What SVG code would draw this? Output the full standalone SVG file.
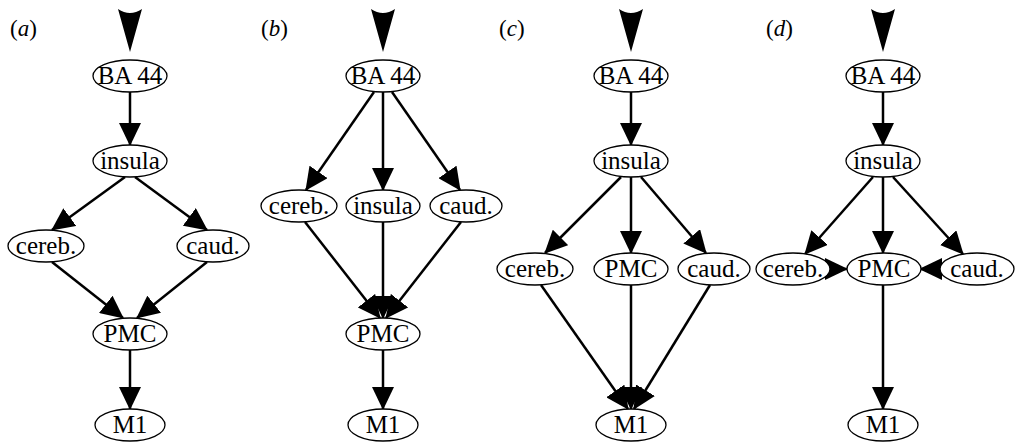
<svg xmlns="http://www.w3.org/2000/svg" width="1016" height="442" viewBox="0 0 1016 442">
<style>
.n ellipse{fill:#fff;stroke:#000;stroke-width:1.3}
.n text{font-family:"Liberation Serif","Times New Roman",serif;font-size:25px;fill:#000;text-anchor:middle}
.lb{font-family:"Liberation Serif","Times New Roman",serif;font-size:23px;fill:#000}
.e line{stroke:#000;stroke-width:2.5;marker-end:url(#ah)}
.top{fill:#000}
</style>
<defs>
<marker id="ah" markerUnits="userSpaceOnUse" markerWidth="23" markerHeight="22" refX="22" refY="11" orient="auto" viewBox="0 0 23 22">
<path d="M0,0 L23,11 L0,22 Z" fill="#000"/>
</marker>
</defs>
<text class="lb" x="10" y="36">(<tspan font-style="italic">a</tspan>)</text>
<text class="lb" x="261" y="36">(<tspan font-style="italic">b</tspan>)</text>
<text class="lb" x="499" y="36">(<tspan font-style="italic">c</tspan>)</text>
<text class="lb" x="766" y="36">(<tspan font-style="italic">d</tspan>)</text>
<g id="top-arrows">
<path class="top" d="M118,9 Q130,17 142,9 L130,52 Z"/>
<path class="top" d="M371,9 Q383,17 395,9 L383,52 Z"/>
<path class="top" d="M619,9 Q631,17 643,9 L631,52 Z"/>
<path class="top" d="M871,9 Q883,17 895,9 L883,52 Z"/>
</g>
<g id="connectors" class="e">
<line x1="130" y1="92" x2="130" y2="145"/>
<line x1="125" y1="177" x2="52" y2="230"/>
<line x1="135" y1="177" x2="207" y2="230"/>
<line x1="52" y1="262" x2="123" y2="318"/>
<line x1="207" y1="262" x2="137" y2="318"/>
<line x1="130" y1="350" x2="130" y2="409"/>
<line x1="374" y1="92" x2="306" y2="190"/>
<line x1="383" y1="92" x2="383" y2="190"/>
<line x1="392" y1="92" x2="460" y2="190"/>
<line x1="305" y1="222" x2="380" y2="318"/>
<line x1="383" y1="222" x2="383" y2="318"/>
<line x1="461" y1="222" x2="386" y2="318"/>
<line x1="383" y1="350" x2="383" y2="409"/>
<line x1="631" y1="92" x2="631" y2="145"/>
<line x1="621" y1="177" x2="545" y2="253"/>
<line x1="631" y1="177" x2="631" y2="253"/>
<line x1="641" y1="177" x2="706" y2="253"/>
<line x1="541" y1="285" x2="628" y2="409"/>
<line x1="631" y1="285" x2="631" y2="409"/>
<line x1="710" y1="285" x2="634" y2="409"/>
<line x1="883" y1="92" x2="883" y2="145"/>
<line x1="873" y1="177" x2="805" y2="254"/>
<line x1="883" y1="177" x2="883" y2="253"/>
<line x1="893" y1="177" x2="963" y2="254"/>
<line x1="830" y1="269" x2="847" y2="269"/>
<line x1="940" y1="269" x2="920" y2="269"/>
<line x1="883" y1="285" x2="883" y2="409"/>
</g>
<g id="a-BA44" class="n"><ellipse cx="130" cy="76" rx="37" ry="16"/><text x="130" y="84">BA 44</text></g>
<g id="a-insula" class="n"><ellipse cx="130" cy="161" rx="37" ry="16"/><text x="130" y="169">insula</text></g>
<g id="a-cereb" class="n"><ellipse cx="46" cy="246" rx="38" ry="16"/><text x="46" y="254">cereb.</text></g>
<g id="a-caud" class="n"><ellipse cx="213" cy="246" rx="36" ry="16"/><text x="213" y="254">caud.</text></g>
<g id="a-PMC" class="n"><ellipse cx="130" cy="334" rx="37" ry="16"/><text x="130" y="342">PMC</text></g>
<g id="a-M1" class="n"><ellipse cx="130" cy="425" rx="35" ry="16"/><text x="130" y="433">M1</text></g>
<g id="b-BA44" class="n"><ellipse cx="383" cy="76" rx="37" ry="16"/><text x="383" y="84">BA 44</text></g>
<g id="b-cereb" class="n"><ellipse cx="299" cy="206" rx="38" ry="16"/><text x="299" y="214">cereb.</text></g>
<g id="b-insula" class="n"><ellipse cx="383" cy="206" rx="37" ry="16"/><text x="383" y="214">insula</text></g>
<g id="b-caud" class="n"><ellipse cx="466" cy="206" rx="36" ry="16"/><text x="466" y="214">caud.</text></g>
<g id="b-PMC" class="n"><ellipse cx="383" cy="334" rx="37" ry="16"/><text x="383" y="342">PMC</text></g>
<g id="b-M1" class="n"><ellipse cx="383" cy="425" rx="35" ry="16"/><text x="383" y="433">M1</text></g>
<g id="c-BA44" class="n"><ellipse cx="631" cy="76" rx="37" ry="16"/><text x="631" y="84">BA 44</text></g>
<g id="c-insula" class="n"><ellipse cx="631" cy="161" rx="37" ry="16"/><text x="631" y="169">insula</text></g>
<g id="c-cereb" class="n"><ellipse cx="535" cy="269" rx="38" ry="16"/><text x="535" y="277">cereb.</text></g>
<g id="c-PMC" class="n"><ellipse cx="631" cy="269" rx="37" ry="16"/><text x="631" y="277">PMC</text></g>
<g id="c-caud" class="n"><ellipse cx="714" cy="269" rx="36" ry="16"/><text x="714" y="277">caud.</text></g>
<g id="c-M1" class="n"><ellipse cx="631" cy="425" rx="35" ry="16"/><text x="631" y="433">M1</text></g>
<g id="d-BA44" class="n"><ellipse cx="883" cy="76" rx="37" ry="16"/><text x="883" y="84">BA 44</text></g>
<g id="d-insula" class="n"><ellipse cx="883" cy="161" rx="37" ry="16"/><text x="883" y="169">insula</text></g>
<g id="d-cereb" class="n"><ellipse cx="793" cy="269" rx="37" ry="16"/><text x="793" y="277">cereb.</text></g>
<g id="d-PMC" class="n"><ellipse cx="884" cy="269" rx="37" ry="16"/><text x="884" y="277">PMC</text></g>
<g id="d-caud" class="n"><ellipse cx="977" cy="269" rx="37" ry="16"/><text x="977" y="277">caud.</text></g>
<g id="d-M1" class="n"><ellipse cx="883" cy="425" rx="35" ry="16"/><text x="883" y="433">M1</text></g>
</svg>
